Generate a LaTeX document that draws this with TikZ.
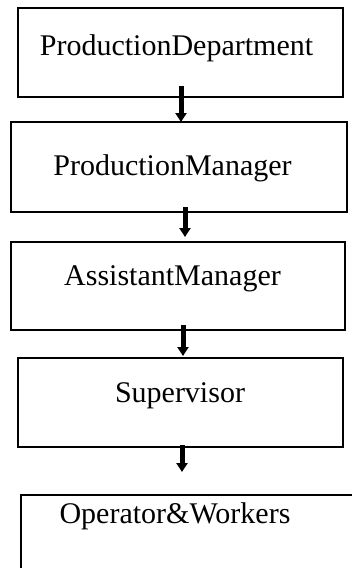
\documentclass[tikz,border=0pt]{standalone}
\usepackage{fontspec}
\setmainfont{Liberation Serif}
\usetikzlibrary{arrows.meta}
\begin{document}
\begin{tikzpicture}[x=1pt,y=-1pt,
  box/.style={draw=black, line width=1.6pt, inner sep=0pt, outer sep=0pt, rectangle},
  lbl/.style={anchor=base, inner sep=0pt, font=\fontsize{30}{35}\selectfont},
  flow/.style={line width=5pt, -{Triangle[width=11pt,length=9pt]}}]
\clip (0,0) rectangle (352,568);
\fill[white] (0,0) rectangle (352,568);
% boxes
\node[box, minimum width=325pt, minimum height=89pt] (b1) at (180.5,52.5) {};
\node[box, minimum width=336pt, minimum height=90pt] (b2) at (179,167) {};
\node[box, minimum width=334pt, minimum height=88pt] (b3) at (178,286) {};
\node[box, minimum width=325pt, minimum height=89pt] (b4) at (180.5,402.5) {};
\node[box, minimum width=340pt, minimum height=90pt] (b5) at (191,540) {};
% labels
\node[lbl] (t1) at (176.5,55) {ProductionDepartment};
\node[lbl] (t2) at (172.5,175) {ProductionManager};
\node[lbl] (t3) at (172.5,285) {AssistantManager};
\node[lbl] (t4) at (180,402) {Supervisor};
\node[lbl] (t5) at (175,523) {Operator\&Workers};
% arrow endpoints
\coordinate (a1s) at (181,86);
\coordinate (a2s) at (185,207);
\coordinate (a2e) at (185,237);
\coordinate (a3s) at (183,325);
\coordinate (a3e) at (183,356);
\coordinate (a4s) at (182,445);
\coordinate (a4e) at (182,472);
\draw[flow] (a1s) -- (a1s |- b2.north);
\draw[flow] (a2s) -- (a2e);
\draw[flow] (a3s) -- (a3e);
\draw[flow] (a4s) -- (a4e);
\end{tikzpicture}
\end{document}
